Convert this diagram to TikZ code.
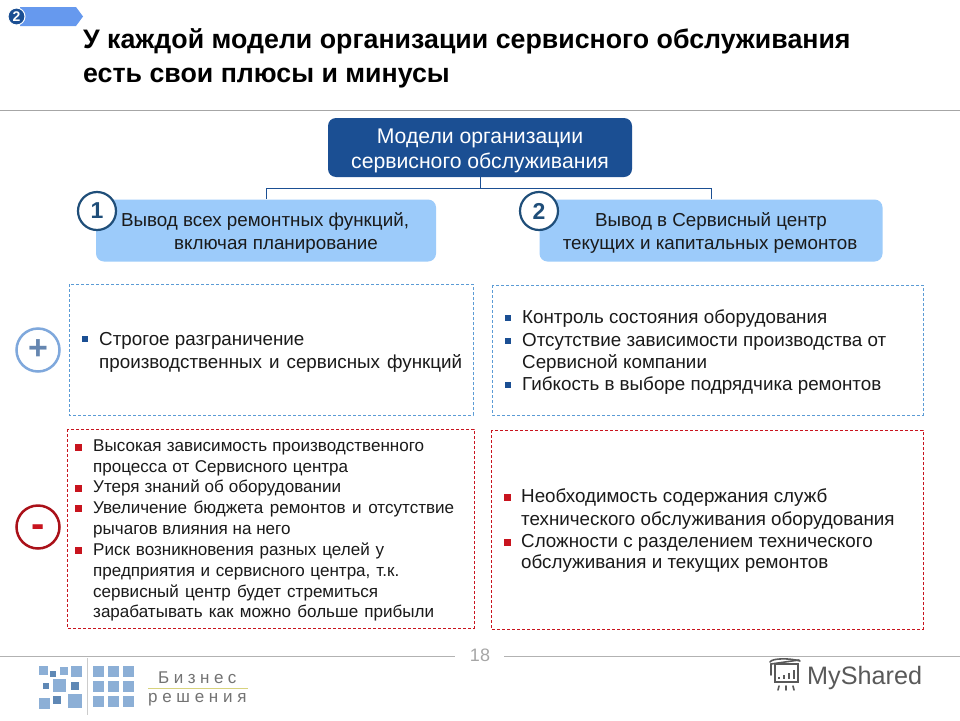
\documentclass[tikz,border=0pt]{standalone}
\usepackage{fontspec}
\setmainfont{Liberation Sans}
\usetikzlibrary{calc}
\definecolor{navy}{HTML}{1B4F93}
\definecolor{lblue}{HTML}{9CCBFA}
\definecolor{ringblue}{HTML}{1F4E79}
\definecolor{plusblue}{HTML}{7FA8DC}
\definecolor{dashblue}{HTML}{5B9BD5}
\definecolor{dashred}{HTML}{C8141E}
\definecolor{tagblue}{HTML}{6699EE}
\definecolor{txt}{HTML}{1A1A1A}
\definecolor{sq}{HTML}{8CAFD6}
\definecolor{sqd}{HTML}{5F88B5}
\newcommand{\fitw}[2]{\makebox[#1pt][s]{#2}}
\tikzset{
 x=1pt,y=-1pt,
 boxblue/.style={draw=dashblue,dashed,line width=0.7pt,dash pattern=on 3pt off 2pt},
 boxred/.style={draw=dashred,line width=0.8pt,dash pattern=on 3pt off 2pt},
 lineA/.style={anchor=base west,inner sep=0pt,text=txt,font=\fontsize{18.8}{20}\selectfont},
 lineB/.style={anchor=base west,inner sep=0pt,text=txt,font=\fontsize{17.05}{19}\selectfont},
 lineC/.style={anchor=base,inner sep=0pt,text=txt,font=\fontsize{18.8}{20}\selectfont},
 bulB/.style={fill=navy,minimum size=6.5pt,inner sep=0pt,anchor=center},
 bulR/.style={fill=dashred,minimum size=7pt,inner sep=0pt,anchor=center},
 numring/.style={circle,fill=white,draw=ringblue,line width=2.2pt,minimum size=38pt,inner sep=0pt,text=ringblue,font=\bfseries\fontsize{23}{23}\selectfont},
 sqr/.style={fill=sq},
 sqrd/.style={fill=sqd},
}
\begin{document}
\begin{tikzpicture}
\useasboundingbox (0,0) rectangle (960,720);
\fill[white] (0,0) rectangle (960,720);
% tag
\fill[tagblue] (20,7) -- (76,7) -- (83,16.5) -- (76,26) -- (20,26) -- cycle;
\node[circle,fill=navy,draw=white,line width=1pt,minimum size=17pt,inner sep=0pt,text=white,font=\bfseries\fontsize{14}{14}\selectfont] (tagnum) at (16.5,16.5) {2};
% title
\node[anchor=base west,inner sep=0pt,text=black,font=\bfseries\fontsize{26.75}{30}\selectfont] (t1) at (83,48) {У каждой модели организации сервисного обслуживания};
\node[anchor=base west,inner sep=0pt,text=black,font=\bfseries\fontsize{26.75}{30}\selectfont] (t2) at (83,82) {есть свои плюсы и минусы};
\draw[black!35,line width=0.8pt] (0,110.5) -- (960,110.5);
% top
\node[fill=navy,rounded corners=8pt,minimum width=304pt,minimum height=59pt,inner sep=0pt] (top) at (480,147.5) {};
\node[anchor=base,inner sep=0pt,text=white,font=\fontsize{21.2}{25}\selectfont] (top1) at (480,143) {Модели организации};
\node[anchor=base,inner sep=0pt,text=white,font=\fontsize{21.2}{25}\selectfont] (top2) at (480,168) {сервисного обслуживания};
% branches
\node[fill=lblue,rounded corners=8pt,minimum width=340pt,minimum height=62pt,inner sep=0pt] (b1) at (266,230.5) {};
\node[fill=lblue,rounded corners=8pt,minimum width=343pt,minimum height=62pt,inner sep=0pt] (b2) at (711,230.5) {};
\coordinate (j) at (480,188);
\draw[navy,line width=0.8pt] (top.south) -- (j);
\draw[navy,line width=0.8pt] (j) -| (b1.north);
\draw[navy,line width=0.8pt] (j) -| (b2.north);
\node[lineC] (b1a) at (265,226) {Вывод всех ремонтных функций,};
\node[lineC] (b1b) at (276,249) {включая планирование};
\node[lineC] (b2a) at (711,226) {Вывод в Сервисный центр};
\node[lineC] (b2b) at (710,249) {текущих и капитальных ремонтов};
\node[numring] (n1) at (97,211) {1};
\node[numring] (n2) at (539,211) {2};
% boxes
\draw[boxblue] (69,284) rectangle (473,415);
\draw[boxblue] (492,285) rectangle (923,415);
\draw[boxred] (67,429) rectangle (474,628);
\draw[boxred] (491,430) rectangle (923,629);
% signs
\node[circle,draw=plusblue,line width=2.5pt,minimum size=43pt,inner sep=0pt,text=plusblue!80!black,font=\bfseries\fontsize{34}{34}\selectfont] (plus) at (38,350) {+};
\node[circle,draw=dashred!85!black,line width=2.5pt,minimum size=43pt,inner sep=0pt,text=dashred,font=\bfseries\fontsize{40}{40}\selectfont] (minus) at (38,527) {\smash{\raisebox{-10.5pt}{-}}};
% box 1
\node[bulB] (s1) at (85,339) {};
\node[lineA] (a1) at (99,345) {Строгое разграничение};
\node[lineA] (a2) at (99,368) {\fitw{363}{производственных и сервисных функций}};
% box 2
\node[bulB] (s2) at (508,318) {};
\node[lineA] (c1) at (522,323) {Контроль состояния оборудования};
\node[bulB] (s3) at (508,341) {};
\node[lineA] (c2) at (522,346) {Отсутствие зависимости производства от};
\node[lineA] (c3) at (522,368) {Сервисной компании};
\node[bulB] (s4) at (508,385) {};
\node[lineA] (c4) at (522,390) {Гибкость в выборе подрядчика ремонтов};
% box 3
\node[bulR] (r1) at (78,447) {};
\node[lineB] (d1) at (93,451) {\fitw{331}{Высокая зависимость производственного}};
\node[lineB] (d2) at (93,472) {\fitw{255}{процесса от Сервисного центра}};
\node[bulR] (r2) at (78,488) {};
\node[lineB] (d3) at (93,492) {\fitw{248}{Утеря знаний об оборудовании}};
\node[bulR] (r3) at (78,508) {};
\node[lineB] (d4) at (93,513) {\fitw{361}{Увеличение бюджета ремонтов и отсутствие}};
\node[lineB] (d5) at (93,534) {рычагов влияния на него};
\node[bulR] (r4) at (78,550) {};
\node[lineB] (d6) at (93,555) {\fitw{291}{Риск возникновения разных целей у}};
\node[lineB] (d7) at (93,576) {\fitw{306}{предприятия и сервисного центра, т.к.}};
\node[lineB] (d8) at (93,597) {\fitw{285}{сервисный центр будет стремиться}};
\node[lineB] (d9) at (93,617) {\fitw{341}{зарабатывать как можно больше прибыли}};
% box 4
\node[bulR] (r5) at (507,497) {};
\node[lineA] (e1) at (521,502) {Необходимость содержания служб};
\node[lineA] (e2) at (521,525) {технического обслуживания оборудования};
\node[bulR] (r6) at (507,542) {};
\node[lineA] (e3) at (521,547) {Сложности с разделением технического};
\node[lineA] (e4) at (521,568) {обслуживания и текущих ремонтов};
% footer
\draw[black!30,line width=0.8pt] (0,656.5) -- (455,656.5);
\draw[black!30,line width=0.8pt] (504,656.5) -- (960,656.5);
\node[inner sep=0pt,text=black!35,font=\fontsize{18}{18}\selectfont] (pg) at (480,655) {18};
% logo
\foreach \x/\y/\s/\st in {39/666/9/sqr,50/671/6/sqrd,60/667/8/sqr,71/666/11/sqr,
  43/683/6/sqrd,53/679/13/sqr,71/682/8/sqrd,39/698/11/sqr,53/696/8/sqrd,68/694/14/sqr,
  93/666/11/sqr,108/666/11/sqr,123/666/11/sqr,93/681/11/sqr,108/681/11/sqr,123/681/11/sqr,
  93/696/11/sqr,108/696/11/sqr,123/696/11/sqr}
  \fill[\st] (\x,\y) rectangle ++(\s,\s);
\draw[black!20,line width=0.6pt] (87.5,658) -- (87.5,715);
\draw[yellow!70!black!60,line width=0.6pt] (148,688) -- (248,688);
\node[anchor=base west,inner sep=0pt,text=black!55,font=\fontsize{17}{17}\selectfont] (biz) at (158,683) {Б\kern4.5pt и\kern4.5pt з\kern4.5pt н\kern4.5pt е\kern4.5pt с};
\node[anchor=base west,inner sep=0pt,text=black!55,font=\fontsize{17}{17}\selectfont] (res) at (148,702) {р\kern4.7pt е\kern4.7pt ш\kern4.7pt е\kern4.7pt н\kern4.7pt и\kern4.7pt я};
% myshared
\begin{scope}[draw=black!65,line width=1.6pt,line cap=round]
\draw (771,675) -- (771,664) -- (799,660);
\draw (775,664) rectangle (798,682);
\draw (770,662) .. controls (772,658) and (790,658) .. (800,661);
\draw (779,686) -- (778,690);
\draw (786,686) -- (786,690);
\draw (793,686) -- (794,690);
\fill[black!65] (778,677) rectangle (780,679);
\fill[black!65] (783,675) rectangle (785,679);
\fill[black!65] (788,673) rectangle (790,679);
\fill[black!65] (793,670) rectangle (795,679);
\end{scope}
\node[anchor=base west,inner sep=0pt,text=black!65,font=\fontsize{25.2}{27}\selectfont] (ms) at (807,684) {MyShared};
\end{tikzpicture}
\end{document}
